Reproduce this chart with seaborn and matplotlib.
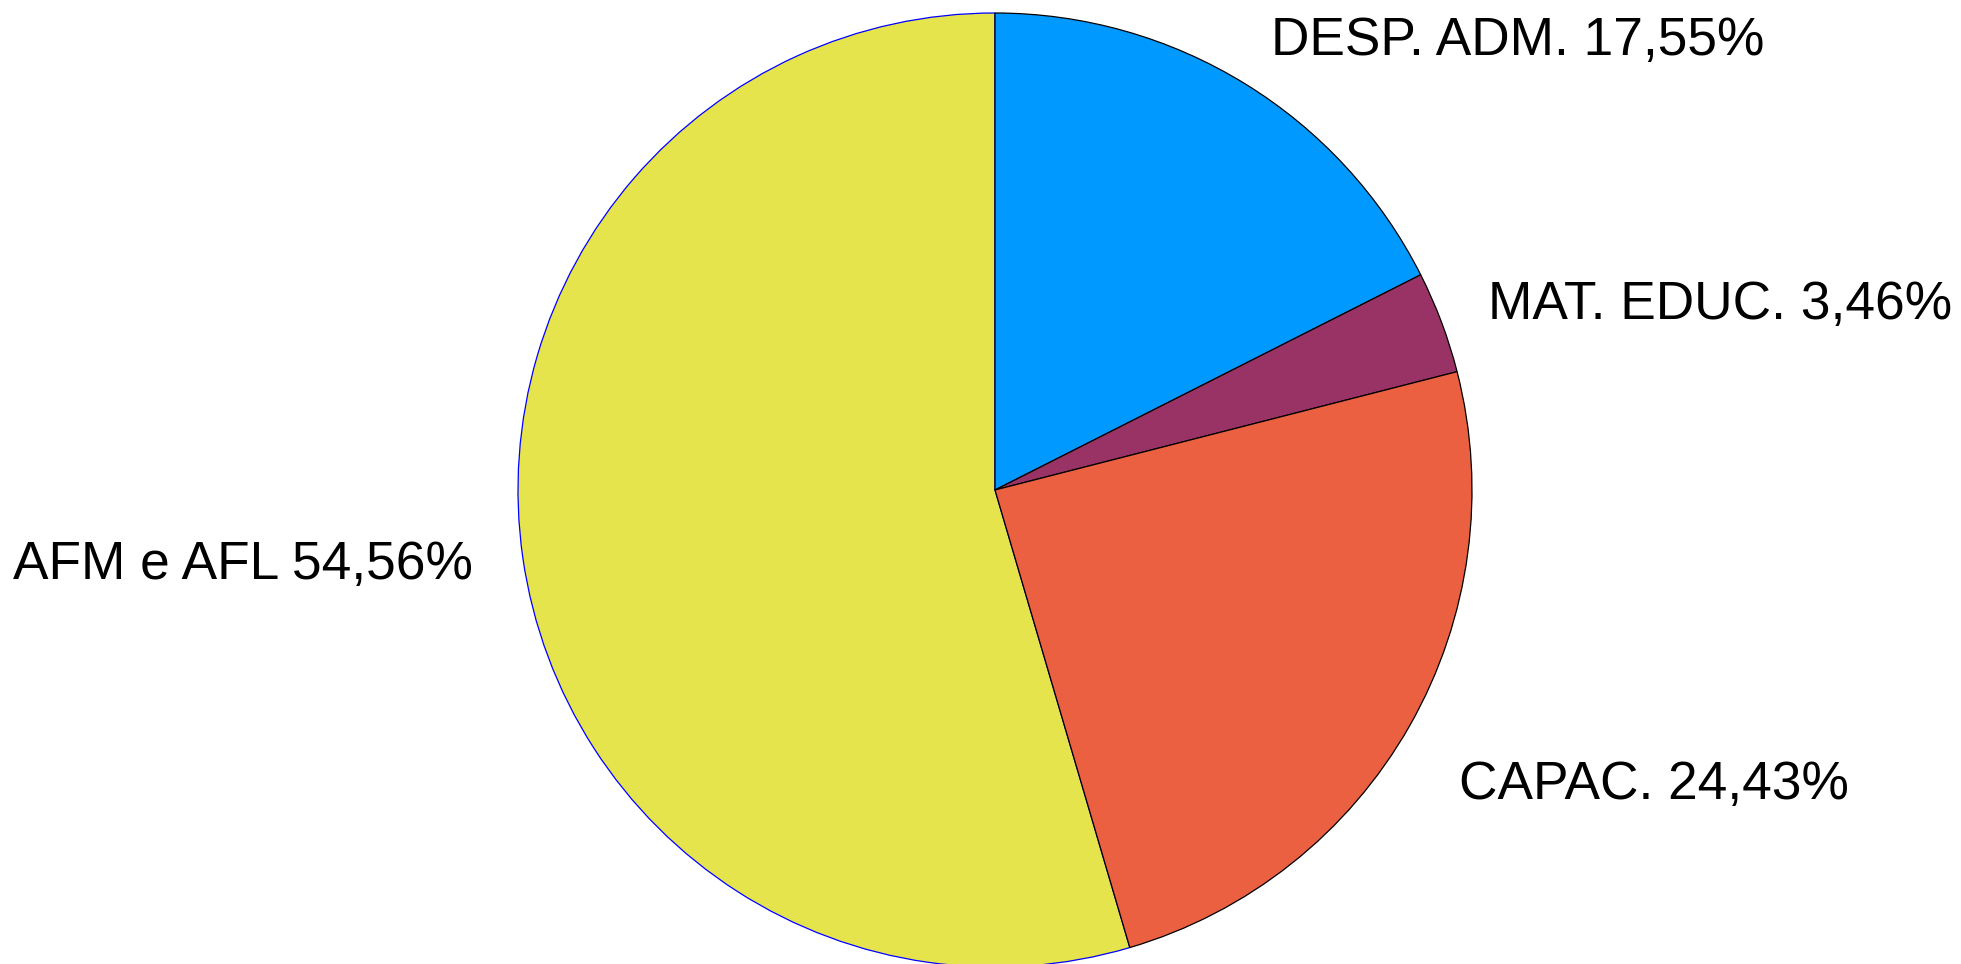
import matplotlib
matplotlib.use("Agg")
from matplotlib import pyplot as plt
import seaborn as sns

# data
categories = ['DESP. ADM.', 'MAT. EDUC.', 'CAPAC.', 'AFM e AFL']
shares = [17.55, 3.46, 24.43, 54.56]
colors = ['#0099ff', '#993366', '#ea6040', '#e6e44c']

sns.set_theme(style="white")
plt.rcParams['font.family'] = ['Liberation Sans', 'DejaVu Sans']

fig = plt.figure(figsize=(19.61, 9.64), dpi=100)
# square axes so the pie radius is ~477 px, centred at (995, 490)
W, H = 1961, 964
r = 477
cx, cy = 995, H - 490
ax = fig.add_axes([(cx - r) / W, (cy - r) / H, 2 * r / W, 2 * r / H])

labels = [c + ' ' + ('%.2f' % v).replace('.', ',') + '%' for c, v in zip(categories, shares)]

wedges, texts = ax.pie(shares, labels=labels, colors=colors, startangle=90,
                       counterclock=False, labeldistance=1.105,
                       wedgeprops=dict(edgecolor='black', linewidth=0.9),
                       textprops=dict(fontsize=38.3, color='black'))

# the big yellow slice has a blue outline, drawn underneath the others
wedges[3].set_edgecolor('blue')
wedges[3].set_zorder(0.5)

# CAPAC. label sits a bit lower than the default spot
texts[2].set_position((0.973, -0.618))
texts[2].set_va('center')

ax.set_xlim(-1, 1)
ax.set_ylim(-1, 1)
ax.set_aspect('equal')
ax.axis('off')

fig.savefig('out.png', dpi=100, facecolor='white')
